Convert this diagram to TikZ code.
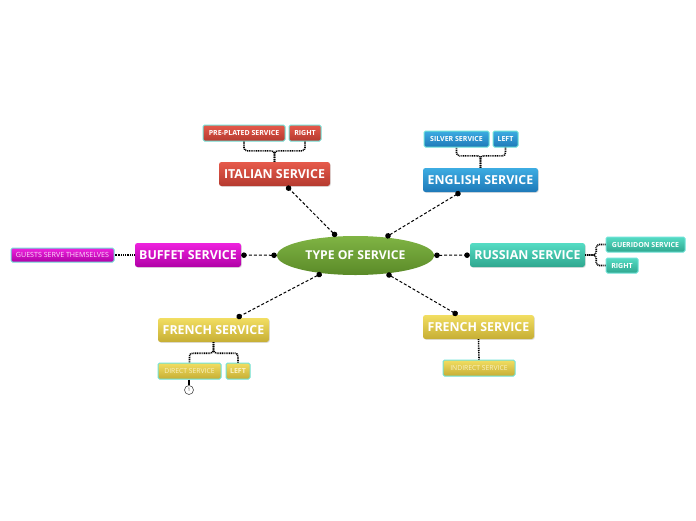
\documentclass[tikz,border=0pt]{standalone}
\usepackage{fontspec}
\setmainfont{Open Sans}
\usetikzlibrary{arrows.meta,shadows,shapes.geometric}
\definecolor{redT}{HTML}{E65A4B}\definecolor{redB}{HTML}{B53A2F}
\definecolor{bluT}{HTML}{3DACE2}\definecolor{bluB}{HTML}{1E79B8}
\definecolor{magT}{HTML}{EE22DE}\definecolor{magB}{HTML}{B000A6}
\definecolor{teaT}{HTML}{55DCC4}\definecolor{teaB}{HTML}{2FA78F}
\definecolor{yelT}{HTML}{F2DE62}\definecolor{yelB}{HTML}{C6AE34}
\definecolor{grnT}{HTML}{80B444}\definecolor{grnB}{HTML}{5A8A28}
\definecolor{cyanb}{HTML}{6FE2D8}
\definecolor{paletext}{HTML}{FAF2C4}
\tikzset{
  mainbox/.style={rounded corners=2.5pt, minimum height=24pt, inner sep=0pt, text=white,
    font=\fontsize{12.4}{14}\selectfont\bfseries, drop shadow={opacity=0.25,shadow xshift=0.8pt,shadow yshift=-0.8pt}},
  subbox/.style={rounded corners=1.5pt, minimum height=16pt, inner sep=0pt, text=white,
    draw=cyanb, line width=1pt, font=\fontsize{7}{8}\selectfont\bfseries},
  red/.style={top color=redT, bottom color=redB},
  blu/.style={top color=bluT, bottom color=bluB},
  mag/.style={top color=magT, bottom color=magB},
  tea/.style={top color=teaT, bottom color=teaB},
  yel/.style={top color=yelT, bottom color=yelB},
  conn/.style={dashed, dash pattern=on 3pt off 2pt, line width=1pt, {Circle[length=5.5pt]}-{Circle[length=5.5pt]}},
  subconn/.style={line width=1.6pt, dash pattern=on 1pt off 0.8pt, rounded corners=3pt},
}
\begin{document}
\begin{tikzpicture}[x=1pt,y=-1pt]
\useasboundingbox (0,0) rectangle (696,520);
% central
\node[ellipse, minimum width=157pt, minimum height=39pt, inner sep=0pt, top color=grnT, bottom color=grnB,
  text=white, font=\fontsize{12.2}{14}\selectfont\bfseries] (c) at (355.5,255.5) {TYPE OF SERVICE};
% main nodes
\node[mainbox, red, minimum width=111pt] (it) at (274.5,174) {ITALIAN SERVICE};
\node[mainbox, blu, minimum width=115pt] (en) at (480.5,180) {ENGLISH SERVICE};
\node[mainbox, mag, minimum width=106pt] (bu) at (188,255) {BUFFET SERVICE};
\node[mainbox, tea, minimum width=115pt] (ru) at (527.5,255) {RUSSIAN SERVICE};
\node[mainbox, yel, minimum width=111pt] (fl) at (213.5,330) {FRENCH SERVICE};
\node[mainbox, yel, minimum width=111pt] (fr) at (478.5,327) {FRENCH SERVICE};
% sub nodes
\node[subbox, red, minimum width=82pt] (pp) at (244,133) {PRE-PLATED SERVICE};
\node[subbox, red, minimum width=32pt] (rt) at (305,133) {RIGHT};
\node[subbox, blu, minimum width=65pt] (sv) at (456.5,139) {SILVER SERVICE};
\node[subbox, blu, minimum width=25pt] (lf) at (505.5,139) {LEFT};
\node[subbox, mag, minimum width=103pt, minimum height=14pt, text=white!85!magT, font=\fontsize{7.1}{8}\selectfont] (gs) at (62.5,255) {GUESTS SERVE THEMSELVES};
\node[subbox, tea, minimum width=79pt, minimum height=15pt] (gu) at (645.5,244.5) {GUERIDON SERVICE};
\node[subbox, tea, minimum width=32pt, minimum height=15pt] (rr) at (622,265.5) {RIGHT};
\node[subbox, yel, minimum width=63pt, text=paletext, font=\fontsize{6.8}{8}\selectfont] (ds) at (189.5,371) {DIRECT SERVICE};
\node[subbox, yel, minimum width=24pt, text=paletext] (ls) at (238,371) {LEFT};
\node[subbox, yel, minimum width=72pt, text=paletext, font=\fontsize{6.8}{8}\selectfont] (is) at (479,368) {INDIRECT SERVICE};
\node[circle, draw=black!70, fill=white, line width=0.6pt, minimum size=9pt, inner sep=0pt, font=\fontsize{5}{5}\selectfont, text=black!70] (n1) at (189,390) {1};
% main connectors
\draw[conn] (c) -- (it);
\draw[conn] (c) -- (en);
\draw[conn] (c) -- (bu);
\draw[conn] (c) -- (ru);
\draw[conn] (c) -- (fl);
\draw[conn] (c) -- (fr);
% sub connectors
\draw[subconn] (it.north) -- ++(0,-11) -| (pp.south);
\draw[subconn] (it.north) -- ++(0,-11) -| (rt.south);
\draw[subconn] (en.north) -- ++(0,-12) -| (sv.south);
\draw[subconn] (en.north) -- ++(0,-12) -| (lf.south);
\draw[subconn] (fl.south) -- ++(0,11) -| (ds.north);
\draw[subconn] (fl.south) -- ++(0,11) -| (ls.north);
\draw[subconn] (fr.south) -- (is.north);
\draw[subconn] (bu.west) -- (gs.east);
\draw[subconn] (ru.east) -- ++(11,0) |- (gu.west);
\draw[subconn] (ru.east) -- ++(11,0) |- (rr.west);
\draw[line width=1.4pt] (ds.south -| n1) -- (n1.north);
\end{tikzpicture}
\end{document}
